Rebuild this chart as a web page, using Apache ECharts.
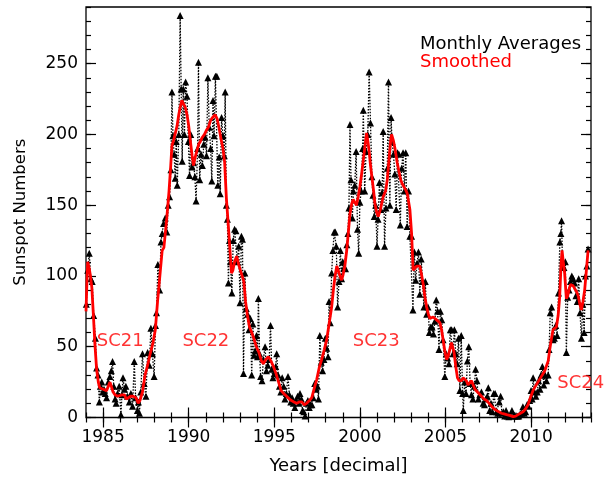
<!DOCTYPE html>
<html>
<head>
<meta charset="utf-8">
<script src="https://cdn.jsdelivr.net/npm/echarts@6/dist/echarts.min.js"></script>
<style>
  html, body { margin: 0; padding: 0; background: #fff; }
  #chart { width: 611px; height: 482px; }
</style>
</head>
<body>
<div id="chart"></div>
<script>
// Monthly averaged sunspot numbers (decimal year, value)
var monthlyYears = [
  1984.02,1984.10,1984.19,1984.28,1984.36,1984.45,1984.55,1984.62,1984.70,1984.78,1984.84,1984.92,1984.98,
  1985.05,1985.12,1985.20,1985.30,1985.40,1985.48,1985.55,1985.62,1985.70,1985.76,1985.84,1985.94,
  1986.04,1986.10,1986.16,1986.25,1986.33,1986.42,1986.53,1986.62,1986.72,1986.82,1986.90,
  1987.00,1987.06,1987.12,1987.20,1987.30,1987.40,1987.50,1987.60,1987.70,1987.79,1987.88,1987.98,
  1988.06,1988.12,1988.20,1988.30,1988.38,1988.45,1988.53,1988.63,1988.72,1988.80,1988.88,1988.96,
  1989.02,1989.08,1989.15,1989.21,1989.27,1989.33,1989.42,1989.50,1989.56,1989.62,1989.68,1989.75,1989.82,1989.90,1989.98,
  1990.05,1990.12,1990.20,1990.28,1990.36,1990.43,1990.52,1990.57,1990.64,1990.72,1990.80,1990.88,1990.96,
  1991.04,1991.12,1991.20,1991.28,1991.35,1991.42,1991.48,1991.56,1991.64,1991.70,1991.78,1991.84,1991.92,
  1992.00,1992.08,1992.13,1992.20,1992.26,1992.32,1992.38,1992.44,1992.52,1992.60,1992.68,1992.76,1992.84,1992.92,
  1993.00,1993.08,1993.14,1993.20,1993.28,1993.36,1993.44,1993.52,1993.60,1993.68,1993.75,1993.82,1993.88,1993.96,
  1994.02,1994.07,1994.14,1994.20,1994.28,1994.36,1994.46,1994.54,1994.62,1994.70,1994.78,1994.85,1994.92,
  1995.00,1995.08,1995.14,1995.22,1995.30,1995.38,1995.46,1995.55,1995.62,1995.70,1995.80,1995.88,1995.96,
  1996.04,1996.11,1996.20,1996.28,1996.36,1996.44,1996.50,1996.58,1996.65,1996.72,1996.80,1996.88,1996.96,
  1997.04,1997.12,1997.20,1997.28,1997.36,1997.44,1997.52,1997.58,1997.66,1997.74,1997.82,1997.90,1997.98,
  1998.06,1998.14,1998.20,1998.27,1998.35,1998.42,1998.50,1998.56,1998.62,1998.70,1998.78,1998.86,1998.93,
  1999.00,1999.08,1999.16,1999.24,1999.30,1999.36,1999.42,1999.48,1999.56,1999.62,1999.70,1999.78,1999.86,1999.93,
  2000.00,2000.08,2000.16,2000.20,2000.28,2000.36,2000.46,2000.54,2000.62,2000.70,2000.76,2000.84,2000.92,
  2001.00,2001.06,2001.14,2001.22,2001.30,2001.36,2001.44,2001.52,2001.60,2001.67,2001.75,2001.82,2001.88,2001.96,
  2002.04,2002.12,2002.20,2002.28,2002.36,2002.44,2002.52,2002.60,2002.68,2002.76,2002.84,2002.92,
  2003.02,2003.10,2003.18,2003.26,2003.34,2003.42,2003.50,2003.58,2003.66,2003.74,2003.82,2003.90,2003.98,
  2004.06,2004.14,2004.22,2004.30,2004.38,2004.46,2004.54,2004.62,2004.70,2004.78,2004.86,2004.96,
  2005.04,2005.12,2005.20,2005.28,2005.36,2005.44,2005.52,2005.60,2005.68,2005.76,2005.84,2005.92,
  2006.00,2006.04,2006.12,2006.20,2006.28,2006.36,2006.44,2006.52,2006.60,2006.68,2006.76,2006.84,2006.92,
  2007.00,2007.10,2007.20,2007.28,2007.36,2007.44,2007.50,2007.58,2007.66,2007.74,2007.82,2007.90,2007.98,
  2008.06,2008.14,2008.22,2008.30,2008.38,2008.46,2008.54,2008.62,2008.70,2008.80,2008.88,2008.96,
  2009.04,2009.12,2009.20,2009.28,2009.36,2009.44,2009.52,2009.60,2009.68,2009.76,2009.84,2009.92,
  2010.00,2010.06,2010.12,2010.20,2010.28,2010.36,2010.44,2010.52,2010.58,2010.66,2010.74,2010.82,2010.90,
  2011.00,2011.05,2011.12,2011.20,2011.28,2011.36,2011.44,2011.52,2011.60,2011.68,2011.74,2011.78,2011.84,2011.92,
  2012.00,2012.06,2012.14,2012.22,2012.30,2012.38,2012.46,2012.54,2012.62,2012.70,2012.78,2012.86,2012.94,
  2013.02,2013.10,2013.18,2013.26,2013.33
];
var monthlyValues = [
  80,104,116,98,96,72,56,35,30,11,22,25,18,
  20,17,14,25,29,33,39.5,22,13,10,17,22,
  2,16,28,20,22,15,11,17,8,39.5,14,
  5,11,3,18,45,24,15,46,37,63,45,29,
  65,74,108,90,124,130,137,141,131,150,156,175,
  230,199,186,169,195,164,200,284,232,181,232,200,237,227,195,
  171,200,177,180,170,153,190,251,168,186,178,193,198,
  185,240,205,190,167,224,199,241,241,164,184,158,212,
  199,185,230,150,140,95,125,110,88,125,133,132,110,121,
  81,128,126,31,102,77,73,62,70,30,66,44,47,58,
  43,84,45,29,26,41,50,33,37,41,65,34,28,
  31,36,45,30,22,18,28,22,13,17,29,16,11,
  14,10,7,12,15,10,17,13,5,4,1,10,12,
  7,9,9,14,24,20,22,13,58,39,33,41,56,
  49,43,82,67,102,118,131,131,121,78,96,118,98,
  110,106,105,122,130,148,207,168,141,160,164,188,133,116,
  152,160,190,217,160,188,200,244,208,170,157,142,150,
  121,140,166,147,159,202,121,148,176,237,150,212,195,186,
  172,147,187,186,136,176,187,160,187,135,160,128,
  128,76,117,97,109,117,87,112,96,78,96,73,78,
  60,64,64,59,68,83,75,48,75,69,55,29,
  45,42,38,62,62,45,62,45,38,56,19,58,
  17,5,25,17,40,50,24,16,13,22,34,26,13,
  16,18,10,9,13,15,21,5,10,4,17,17,4,
  3,11,15,3,4,1,5,1,0.5,1,5,1,
  1,1.5,0.8,1,2.5,3,7.6,3,4,9,8,12,
  19,13,28,18,15,18,26,20,30,36,23,30,26,
  30,48,74,78,55,56,65,58,88,124,130,139,106,106,
  110,46,85,90,96,100,98,95,86,82,98,74,56,
  80,60,100,107,119
];

// Smoothed sunspot numbers (decimal year, value)
var smoothYears = [
  1984.00,1984.06,1984.10,1984.18,1984.26,1984.34,1984.42,1984.52,1984.62,1984.72,1984.80,1984.90,
  1985.00,1985.10,1985.20,1985.30,1985.40,1985.48,1985.58,1985.70,1985.85,1985.95,
  1986.10,1986.25,1986.35,1986.45,1986.60,1986.75,1986.92,
  1987.05,1987.15,1987.30,1987.45,1987.60,1987.75,1987.90,
  1988.05,1988.18,1988.30,1988.45,1988.55,1988.72,1988.85,1988.95,
  1989.02,1989.12,1989.22,1989.32,1989.42,1989.50,1989.60,1989.70,1989.80,1989.90,
  1990.00,1990.10,1990.20,1990.28,1990.38,1990.47,1990.58,1990.68,1990.80,1990.92,
  1991.04,1991.15,1991.28,1991.40,1991.54,1991.66,1991.78,1991.90,
  1992.00,1992.10,1992.20,1992.30,1992.40,1992.50,1992.58,1992.68,1992.80,1992.92,
  1993.02,1993.12,1993.22,1993.32,1993.42,1993.55,1993.68,1993.80,1993.95,
  1994.10,1994.25,1994.36,1994.50,1994.65,1994.80,1994.95,
  1995.10,1995.25,1995.40,1995.55,1995.72,1995.88,
  1996.00,1996.15,1996.31,1996.45,1996.60,1996.75,1996.89,
  1997.05,1997.19,1997.32,1997.48,1997.62,1997.77,1997.92,
  1998.06,1998.20,1998.35,1998.45,1998.55,1998.65,1998.74,1998.84,1998.93,
  1999.02,1999.12,1999.23,1999.32,1999.42,1999.52,1999.61,1999.70,1999.80,1999.90,
  2000.00,2000.10,2000.20,2000.30,2000.39,2000.47,2000.55,2000.62,2000.70,2000.80,2000.88,2000.98,
  2001.07,2001.20,2001.36,2001.50,2001.60,2001.71,2001.80,2001.85,2001.95,
  2002.05,2002.18,2002.28,2002.38,2002.48,2002.57,2002.67,2002.77,2002.85,2002.92,
  2003.02,2003.11,2003.20,2003.31,2003.42,2003.50,2003.60,2003.70,2003.80,2003.90,
  2004.00,2004.09,2004.28,2004.48,2004.67,2004.77,2004.86,2004.96,
  2005.06,2005.15,2005.25,2005.35,2005.42,2005.50,2005.60,2005.70,2005.80,2005.93,
  2006.03,2006.13,2006.22,2006.32,2006.42,2006.52,2006.62,2006.72,2006.81,2006.95,
  2007.10,2007.25,2007.40,2007.55,2007.69,2007.85,2007.98,
  2008.12,2008.27,2008.42,2008.57,2008.75,2008.95,
  2009.10,2009.24,2009.38,2009.53,2009.67,2009.82,2009.96,
  2010.11,2010.25,2010.40,2010.55,2010.70,2010.80,2010.90,
  2011.00,2011.09,2011.18,2011.28,2011.38,2011.48,2011.58,2011.67,2011.75,2011.81,2011.88,2011.96,
  2012.06,2012.14,2012.21,2012.30,2012.38,2012.46,2012.55,2012.65,2012.75,2012.85,2012.94,
  2013.03,2013.13,2013.23,2013.33
];
var smoothValues = [
  75,98,110,106,100,92,75,52,34,25,21,22,
  20,20,19,22,25,22,18,16,15,15,
  16,16,13,14,15,15,14,
  10,12,18,30,37,45,52,
  62,82,98,118,120,141,160,178,
  192,196,197,206,214,219,224,224,219,214,
  206,195,185,178,184,188,193,195,198,200,
  203,205,210,212,214,211,204,196,
  190,180,155,138,120,102,104,110,114,108,
  104,100,96,82,73,64,60,56,50,
  46,40,38,41,43,40,36,
  31,25,19,17,15,13,
  12,11,10,11,11,9,10,
  12,14,20,27,35,41,48,
  55,66,78,90,100,107,106,100,97,
  101,107,118,130,144,151,154,152,150,156,
  163,172,182,192,201,195,187,178,170,160,151,145,
  142,147,156,160,168,184,196,200,196,
  190,180,174,168,165,163,161,158,152,147,
  130,104,104,107,108,107,101,94,85,78,
  73,70,71,69,67,62,55,47,
  41,43,48,53,53,46,36,28,26,26,
  28,29,26,23,24,26,23,20,19,17,
  15,13,12,10,8,6,5,
  4,3,2.5,2,1.5,0.6,
  1,2,3,4,6,9,14,
  19,22,25,28,31,33,33,
  40,48,55,62,63,64,72,85,108,118,110,102,
  84,86,90,94,95,93,91,89,86,80,76,
  82,90,104,118
];

// Solar cycle annotations
var cycleNames = ['SC21', 'SC22', 'SC23', 'SC24'];
var cycleYears = [1986.0, 1991.0, 2000.95, 2012.9];
var cycleValues = [54, 54, 54, 24];

// Axis ticks
var xTickYears = [1985, 1990, 1995, 2000, 2005, 2010];
var yTickValues = [0, 50, 100, 150, 200, 250];

var X_MIN = 1984, X_MAX = 2013.5, Y_MIN = 0, Y_MAX = 290;
var FONT = 'DejaVu Sans';

function zip(xs, ys) { return xs.map(function (x, i) { return [x, ys[i]]; }); }
function plain(v) { return String(v); }

function majorX(position, showLabel) {
  return {
    type: 'value', position: position, min: X_MIN, max: X_MAX,
    axisLine: { show: false }, splitLine: { show: false },
    axisTick: { show: true, inside: true, length: 10, customValues: xTickYears,
                lineStyle: { color: '#000', width: 1.2 } },
    axisLabel: { show: showLabel, customValues: xTickYears, margin: 12, formatter: plain,
                 color: '#000', fontSize: 17, fontFamily: FONT }
  };
}
function minorX(position) {
  return {
    type: 'value', position: position, min: X_MIN, max: X_MAX, interval: 1,
    axisLine: { show: false }, splitLine: { show: false }, axisLabel: { show: false },
    axisTick: { show: true, inside: true, length: 5, lineStyle: { color: '#000', width: 1.2 } }
  };
}
function majorY(position, showLabel) {
  return {
    type: 'value', position: position, min: Y_MIN, max: Y_MAX,
    axisLine: { show: false }, splitLine: { show: false },
    axisTick: { show: true, inside: true, length: 10, customValues: yTickValues,
                lineStyle: { color: '#000', width: 1.2 } },
    axisLabel: { show: showLabel, customValues: yTickValues, margin: 8, formatter: plain,
                 color: '#000', fontSize: 17, fontFamily: FONT }
  };
}
function minorY(position) {
  return {
    type: 'value', position: position, min: Y_MIN, max: Y_MAX, interval: 10,
    axisLine: { show: false }, splitLine: { show: false }, axisLabel: { show: false },
    axisTick: { show: true, inside: true, length: 5, lineStyle: { color: '#000', width: 1.2 } }
  };
}

var xMain = majorX('bottom', true);
xMain.name = 'Years [decimal]';
xMain.nameLocation = 'middle';
xMain.nameGap = 40;
xMain.nameTextStyle = { color: '#000', fontSize: 18, fontFamily: FONT };

var yMain = majorY('left', true);
yMain.name = 'Sunspot Numbers';
yMain.nameLocation = 'middle';
yMain.nameGap = 57;
yMain.nameTextStyle = { color: '#000', fontSize: 16.5, fontFamily: FONT };

var chart = echarts.init(document.getElementById('chart'), null, { renderer: 'canvas' });
chart.setOption({
  animation: false,
  backgroundColor: '#fff',
  grid: {
    left: 86, right: 20, top: 7, bottom: 64.5,
    show: true, borderColor: '#000', borderWidth: 1.3, backgroundColor: 'transparent'
  },
  xAxis: [xMain, minorX('bottom'), majorX('top', false), minorX('top')],
  yAxis: [yMain, minorY('left'), majorY('right', false), minorY('right')],
  legend: {
    orient: 'vertical', left: 415, top: 35, padding: 0,
    itemGap: 0, itemWidth: 0, itemHeight: 15, icon: 'none',
    selectedMode: false,
    textStyle: { fontSize: 18, fontFamily: FONT, lineHeight: 15 },
    data: [
      { name: 'Monthly Averages', textStyle: { color: '#000' } },
      { name: 'Smoothed', textStyle: { color: '#ff0000' } }
    ]
  },
  series: [
    {
      name: 'Monthly Averages', type: 'line', xAxisIndex: 0, yAxisIndex: 0,
      data: zip(monthlyYears, monthlyValues),
      symbol: 'triangle', symbolSize: 7, showSymbol: true,
      itemStyle: { color: '#000' },
      lineStyle: { color: '#000', width: 1.3, type: [1.5, 1.5] },
      z: 2
    },
    {
      name: 'Smoothed', type: 'line', xAxisIndex: 0, yAxisIndex: 0,
      data: zip(smoothYears, smoothValues),
      symbol: 'none',
      lineStyle: { color: '#ff0000', width: 2.8 },
      z: 3
    },
    {
      name: 'cycles', type: 'scatter', xAxisIndex: 0, yAxisIndex: 0,
      data: cycleYears.map(function (y, i) { return { value: [y, cycleValues[i]], name: cycleNames[i] }; }),
      symbolSize: 0,
      label: {
        show: true, position: 'inside', formatter: '{b}',
        color: '#ff0000', fontSize: 18, fontFamily: FONT
      },
      z: 4, silent: true
    }
  ]
});
</script>
</body>
</html>
